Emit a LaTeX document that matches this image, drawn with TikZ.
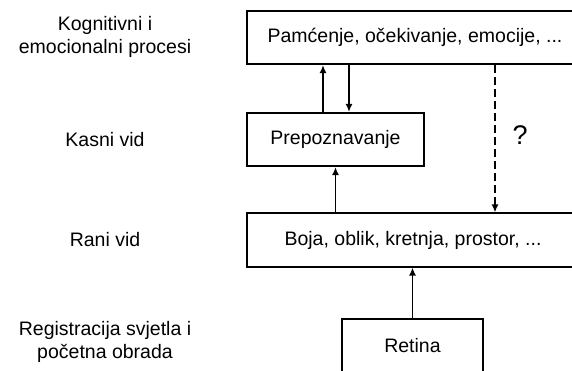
\documentclass[tikz,border=0pt]{standalone}
\usepackage{fontspec}
\setmainfont{Liberation Sans}
\usetikzlibrary{arrows.meta}

\begin{document}
\begin{tikzpicture}[x=1pt, y=-1pt,
        txt/.style={font=\fontsize{19.5}{23}\selectfont, inner sep=0pt},
        box/.style={txt, draw, line width=1.6pt, minimum height=53.5pt},
        arr/.style={-{Latex[length=8pt,width=7pt]}, line width=1.6pt}]
                    \useasboundingbox (0,0) rectangle (572,371);
                    \clip (0,0) rectangle (572,371);
                    \node[box, minimum width=336pt] (kog) at (415,37.5) {Pamćenje, očekivanje, emocije, ...};
                    \node[box, minimum width=177pt] (prep) at (335.5,139.5) {Prepoznavanje};
                    \node[box, minimum width=332pt] (rani) at (413,240) {Boja, oblik, kretnja, prostor, ...};
                    \node[box, minimum width=141pt] (ret) at (412.5,346) {Retina};
                    \node[txt, font=\fontsize{27}{30}\selectfont] (upit) at (520,135) {?};
                    \node[txt, align=center] (lkog) at (105,37) {Kognitivni i\\emocionalni procesi};
                    \node[txt] (lkas) at (105,139.5) {Kasni vid};
                    \node[txt] (lran) at (105,240) {Rani vid};
                    \node[txt, align=center] (lreg) at (105,342) {Registracija svjetla i\\početna obrada};
                    \draw[arr] ([xshift=-12.5pt]prep.north) -- ([xshift=-12.5pt]prep.north |- kog.south);
                    \draw[arr] ([xshift=13.5pt]prep.north |- kog.south) -- ([xshift=13.5pt]prep.north);
                    \draw[arr] (prep.south |- rani.north) -- (prep.south);
                    \draw[arr] (ret.north) -- (ret.north |- rani.south);
                    \draw[arr, dash pattern=on 8pt off 4pt] ([xshift=-25pt]upit.center |- kog.south) -- ([xshift=-25pt]upit.center |- rani.north);
                \end{tikzpicture}
\end{document}
